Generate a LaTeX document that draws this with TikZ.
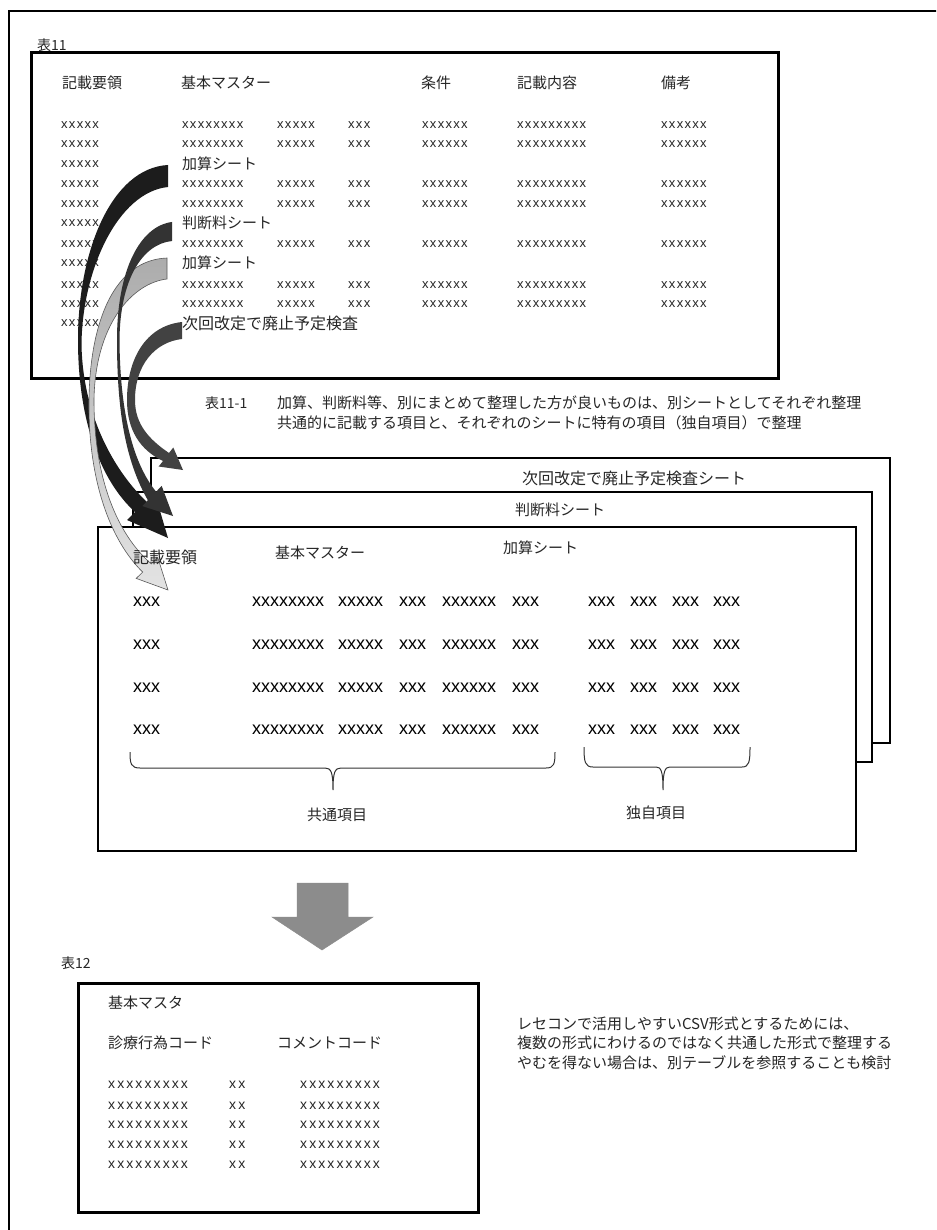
\documentclass[tikz,border=0pt]{standalone}
\usepackage{fontspec}
\setmainfont{Noto Sans CJK JP}
\newfontfamily\xsfont{Liberation Sans}[LetterSpace=10]
\newfontfamily\xmfont{Liberation Sans}[LetterSpace=15]
\newfontfamily\xbfont{Liberation Sans}
\definecolor{txt}{HTML}{262626}
\definecolor{arA}{HTML}{1C1C1C}
\definecolor{arB}{HTML}{333333}
\definecolor{arD}{HTML}{424242}
\definecolor{bigarrow}{HTML}{8C8C8C}
\tikzset{
  jp/.style={anchor=west, inner sep=0pt, text=txt, font=\fontsize{15}{18}\selectfont},
  jpl/.style={jp, font=\fontsize{16}{19}\selectfont},
  jps/.style={jp, font=\fontsize{14}{17}\selectfont},
  xs/.style={anchor=west, inner sep=0pt, text=txt, font=\xsfont\fontsize{13}{15}\selectfont},
  xm/.style={anchor=west, inner sep=0pt, text=txt, font=\xmfont\fontsize{14}{16}\selectfont},
  xb/.style={anchor=west, inner sep=0pt, text=black, font=\xbfont\fontsize{18}{20}\selectfont},
  tbl/.style={draw=black, line width=3pt},
  sheetbox/.style={draw=black, fill=white, line width=2.6pt},
  bracepath/.style={draw=black!80, line width=1pt},
  frame/.style={draw=black, line width=1.5pt},
}
\begin{document}
\begin{tikzpicture}[x=1pt,y=-1pt]
\useasboundingbox (0,0) rectangle (936,1230);
\clip (0,0) rectangle (936,1230);
\fill[white] (0,0) rectangle (936,1230);
% outer frame (open to the right and bottom)
\draw[frame] (9,11) rectangle (960,1260);

% ---------------- Table 11 ----------------
\node[jps] (t11) at (37,45) {表11};
\draw[tbl] (31,53) rectangle (778,378);
\node[jp] (h1) at (62,83) {記載要領};
\node[jp] (h2) at (181,83) {基本マスター};
\node[jp] (h3) at (421,83) {条件};
\node[jp] (h4) at (517,83) {記載内容};
\node[jp] (h5) at (661,83) {備考};
\foreach \y [count=\i] in {125,144,164,184,204,223,244,263,285,304,323}
  \node[xs] (ta\i) at (61,\y) {xxxxx};
\foreach \y [count=\i] in {125,144,184,204,244,285,304} {
  \node[xs] (tb\i) at (182,\y) {xxxxxxxx};
  \node[xs] (tc\i) at (277,\y) {xxxxx};
  \node[xs] (td\i) at (348,\y) {xxx};
  \node[xs] (te\i) at (422,\y) {xxxxxx};
  \node[xs] (tf\i) at (517,\y) {xxxxxxxxx};
  \node[xs] (tg\i) at (661,\y) {xxxxxx};
}
\node[jp] (lab1) at (182,164) {加算シート};
\node[jp] (lab2) at (182,223) {判断料シート};
\node[jp] (lab3) at (182,263) {加算シート};
\node[jpl] (lab4) at (182,323) {次回改定で廃止予定検査};

% caption
\node[jps] (cap0) at (205,403) {表11-1};
\node[jp] (cap1) at (277,403) {加算、判断料等、別にまとめて整理した方が良いものは、別シートとしてそれぞれ整理};
\node[jp] (cap2) at (277,423) {共通的に記載する項目と、それぞれのシートに特有の項目（独自項目）で整理};

% ---------------- stacked sheets ----------------
\draw[sheetbox] (151,458) rectangle (890,743);
\node[jpl] (s3) at (522,478) {次回改定で廃止予定検査シート};
\draw[sheetbox] (133,492) rectangle (872,762);
\node[jp] (s2) at (515,510) {判断料シート};
\draw[sheetbox] (98,527) rectangle (856,851);
\node[jp] (s1) at (503,548) {加算シート};
\node[jp] (sh2) at (275,553) {基本マスター};
\foreach \y [count=\i] in {602,645,688,730} {
  \node[xb] (sa\i) at (133,\y) {xxx};
  \node[xb] (sb\i) at (252,\y) {xxxxxxxx};
  \node[xb] (sc\i) at (338,\y) {xxxxx};
  \node[xb] (sd\i) at (399,\y) {xxx};
  \node[xb] (se\i) at (442,\y) {xxxxxx};
  \node[xb] (sf\i) at (512,\y) {xxx};
  \node[xb] (sg\i) at (588,\y) {xxx};
  \node[xb] (sh\i) at (630,\y) {xxx};
  \node[xb] (si\i) at (672,\y) {xxx};
  \node[xb] (sj\i) at (713,\y) {xxx};
}
% braces
\draw[bracepath] (130,752) .. controls (130,764) and (131,768) .. (140,768)
  -- (325,768) .. controls (331,768) and (333,772) .. (333,790)
  .. controls (333,772) and (335,768) .. (341,768)
  -- (546,768) .. controls (554,768) and (555,764) .. (555,752);
\draw[bracepath] (584,747) .. controls (584,762) and (585,767) .. (593,767)
  -- (656,767) .. controls (661,767) and (663,771) .. (663,790)
  .. controls (663,771) and (665,767) .. (670,767)
  -- (742,767) .. controls (749,767) and (750,762) .. (750,747);
\node[jp] (common) at (307,815) {共通項目};
\node[jp] (own) at (626,813) {独自項目};

% ---------------- curved arrows ----------------
% black: 加算シート -> front sheet
\path[fill=arA] (168,165) .. controls (112,168) and (78,250) .. (78,340)
  .. controls (78,420) and (100,480) .. (135,512) -- (127,520) -- (168,538)
  -- (155,494) -- (147,502) .. controls (118,475) and (83,420) .. (81.5,345)
  .. controls (82,270) and (118,192) .. (168,187) -- cycle;
% light grey: 加算シート -> front sheet row
\path[draw=black!65, line width=0.6pt, top color=gray!65, bottom color=gray!22]
  (167,258) .. controls (115,260) and (90,320) .. (89,400)
  .. controls (88,480) and (110,540) .. (142.7,572.1) -- (136.2,578.4) -- (168,590)
  -- (157.8,557.6) -- (151.3,563.9) .. controls (118,535) and (94,480) .. (94,400)
  .. controls (95,325) and (132,283) .. (167,279) -- cycle;
% dark grey: 判断料シート -> second sheet
\path[fill=arB] (172,222) .. controls (140,226) and (117,270) .. (117,340)
  .. controls (117,410) and (125,460) .. (147.9,500.3) -- (142.3,506.1) -- (173,516)
  -- (161.7,485.9) -- (156.1,491.7) .. controls (132,462) and (120,410) .. (119.5,340)
  .. controls (120,280) and (142,244) .. (172,241) -- cycle;
% grey: 次回改定 -> back sheet
\path[fill=arD] (182,322) .. controls (145,326) and (127,360) .. (127,400)
  .. controls (127,430) and (140,450) .. (163,461) -- (158.7,466.5) -- (183,470)
  -- (173.3,447.5) -- (169,453) .. controls (150,440) and (135,425) .. (135,400)
  .. controls (135,365) and (155,342) .. (182,339) -- cycle;

% front sheet heading drawn over the arrows
\node[jpl] (sh1) at (133,557) {記載要領};

% ---------------- big down arrow ----------------
\path[fill=bigarrow, draw=black!45, line width=0.5pt]
  (297,883) -- (348,883) -- (348,917) -- (373,917) -- (322,950) -- (272,917) -- (297,917) -- cycle;

% ---------------- Table 12 ----------------
\node[jps] (t12) at (61,963) {表12};
\draw[tbl] (78,983) rectangle (478,1212);
\node[jp] (k1) at (108,1003) {基本マスタ};
\node[jp] (k2) at (108,1043) {診療行為コード};
\node[jp] (k3) at (277,1043) {コメントコード};
\foreach \y [count=\i] in {1085,1106,1125,1145,1165} {
  \node[xm] (ka\i) at (108,\y) {xxxxxxxxx};
  \node[xm] (kb\i) at (229,\y) {xx};
  \node[xm] (kc\i) at (300,\y) {xxxxxxxxx};
}
% right note
\node[jp] (n1) at (517,1024) {レセコンで活用しやすいCSV形式とするためには、};
\node[jp] (n2) at (517,1043) {複数の形式にわけるのではなく共通した形式で整理する};
\node[jp] (n3) at (517,1063) {やむを得ない場合は、別テーブルを参照することも検討};
\end{tikzpicture}
\end{document}
